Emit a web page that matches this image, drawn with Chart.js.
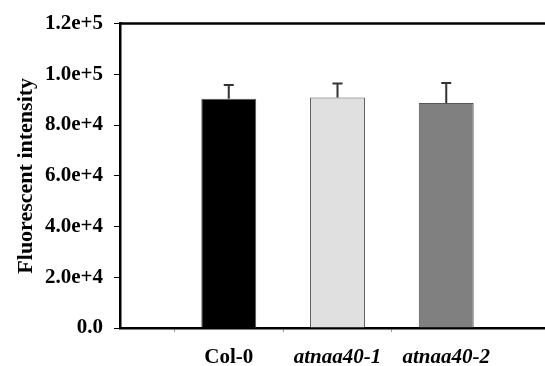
<!DOCTYPE html>
<html>
<head>
<meta charset="utf-8">
<script src="https://cdn.jsdelivr.net/npm/chart.js@4"></script>
<style>
  body { margin: 0; overflow: hidden; background: #fff; }
  #wrap { position: absolute; left: 0; top: 0; width: 568px; height: 366px; }
</style>
</head>
<body>
<div id="wrap"><canvas id="grafico"></canvas></div>
<script>
// Dados
const categories = ['Col-0', 'atnaa40-1', 'atnaa40-2'];
const means = [90400, 90900, 88700];
const errors = [5400, 5450, 7900];
const barColors = ['#000000', '#e0e0e0', '#808080'];
const yMax = 120000;
const yStep = 20000;

const serif = "'Liberation Serif', 'Times New Roman', serif";

// formato 1.2e+5
function sciLabel(v) {
    if (v === 0) return '0.0';
    const exp = Math.floor(Math.log10(v));
    const mant = v / Math.pow(10, exp);
    return mant.toFixed(1) + 'e+' + exp;
}

// barras de erro (só a parte de cima)
const errorBars = {
    id: 'errorBars',
    afterDatasetsDraw(chart) {
        const ctx = chart.ctx;
        const yScale = chart.scales.y;
        const meta = chart.getDatasetMeta(0);
        ctx.save();
        ctx.strokeStyle = '#333';
        ctx.lineWidth = 2;
        meta.data.forEach((bar, i) => {
            const k = i - 1;
            if (k < 0 || k >= means.length) return;
            const yTop = yScale.getPixelForValue(means[k] + errors[k]);
            ctx.beginPath();
            ctx.moveTo(bar.x, bar.y);
            ctx.lineTo(bar.x, yTop);
            ctx.moveTo(bar.x - 5, yTop);
            ctx.lineTo(bar.x + 5, yTop);
            ctx.stroke();
        });
        ctx.restore();
    }
};

// linha de cima da caixa
const topLine = {
    id: 'topLine',
    afterDraw(chart) {
        const { ctx, chartArea } = chart;
        ctx.save();
        ctx.strokeStyle = '#000';
        ctx.lineWidth = 2.5;
        ctx.beginPath();
        ctx.moveTo(chartArea.left - 1, chartArea.top);
        ctx.lineTo(chartArea.right + 10, chartArea.top);
        ctx.stroke();
        ctx.restore();
    }
};

const labels = [''].concat(categories, ['']);
const values = [null].concat(means, [null]);

const config = {
    type: 'bar',
    data: {
        labels: labels,
        datasets: [{
            data: values,
            backgroundColor: [null].concat(barColors, [null]),
            borderColor: '#555',
            borderWidth: 1,
            categoryPercentage: 1,
            barPercentage: 0.505
        }]
    },
    options: {
        responsive: true,
        maintainAspectRatio: false,
        animation: false,
        layout: { padding: { top: 20, right: 4, bottom: 0, left: 0 } },
        plugins: {
            legend: { display: false },
            tooltip: { enabled: false }
        },
        scales: {
            x: {
                offset: false,
                grid: {
                    drawOnChartArea: false,
                    tickLength: 4,
                    tickColor: c => (c.index >= 1 && c.index <= categories.length) ? '#999' : 'rgba(0,0,0,0)'
                },
                border: { color: '#000', width: 2.5 },
                ticks: {
                    padding: 13,
                    color: '#000',
                    maxRotation: 0,
                    autoSkip: false,
                    font: c => ({
                        family: serif,
                        size: 21,
                        weight: 'bold',
                        style: c.index >= 2 ? 'italic' : 'normal'
                    })
                },
                afterFit(scale) { scale.height = 38; }
            },
            y: {
                min: 0,
                max: yMax,
                grid: {
                    drawOnChartArea: false,
                    tickLength: 6,
                    tickColor: '#000'
                },
                border: { color: '#000', width: 2.5 },
                ticks: {
                    stepSize: yStep,
                    padding: 11,
                    color: '#000',
                    font: { family: serif, size: 21, weight: 'bold' },
                    callback: v => sciLabel(v)
                },
                title: {
                    display: true,
                    text: 'Fluorescent intensity',
                    color: '#000',
                    padding: { top: 13, bottom: 0 },
                    font: { family: serif, size: 22, weight: 'bold' }
                },
                afterFit(scale) { scale.width = 120; }
            }
        }
    },
    plugins: [errorBars, topLine]
};

const meuGrafico = new Chart(document.getElementById('grafico'), config);
</script>
</body>
</html>
